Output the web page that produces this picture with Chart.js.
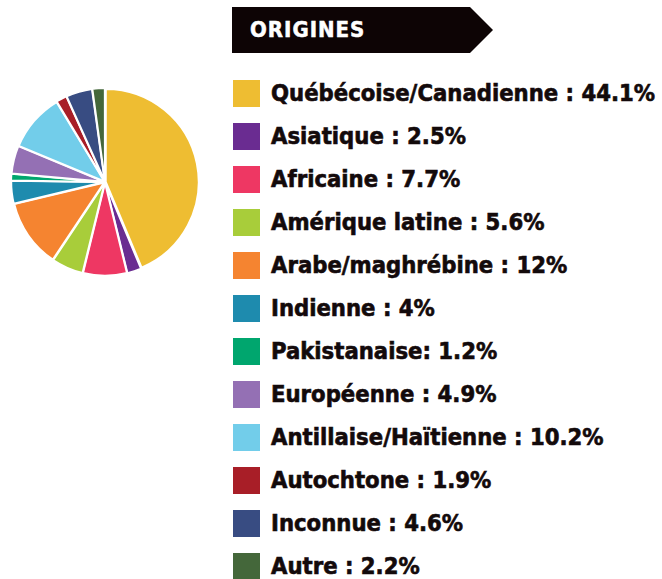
<!DOCTYPE html>
<html>
<head>
<meta charset="utf-8">
<script src="https://cdn.jsdelivr.net/npm/chart.js@4/dist/chart.umd.min.js"></script>
<style>
  html, body { margin: 0; padding: 0; background: #fff; }
  #wrap { position: relative; width: 662px; height: 579px; overflow: hidden; }
  #pie { position: absolute; left: 10px; top: 87px; }
  #banner {
    position: absolute; left: 232px; top: 7px; width: 261px; height: 46px;
    background: #0d0405;
    clip-path: polygon(0 0, 238px 0, 261px 23px, 238px 46px, 0 46px);
  }
  #banner span {
    position: absolute; left: 18px; top: 10px;
    color: #fff; font-family: 'DejaVu Sans Condensed', 'DejaVu Sans', sans-serif;
    font-weight: bold; font-size: 22px; line-height: 26px; letter-spacing: 1px;
    -webkit-text-stroke: 0.5px #fff;
  }
  .sw { position: absolute; left: 233px; width: 27px; height: 27px; }
  .lb {
    position: absolute; left: 271px; height: 18px; line-height: 18px; white-space: nowrap;
    color: #130a0b; font-family: 'DejaVu Sans Condensed', 'DejaVu Sans', sans-serif; font-weight: bold;
    -webkit-text-stroke: 0.6px #130a0b;
  }
</style>
</head>
<body>
<div id="wrap">
  <canvas id="pie" width="190" height="190"></canvas>
  <div id="banner"><span>ORIGINES</span></div>
  <div id="legend"></div>
</div>
<script>
// origines des participants (%)
const names = ['Québécoise/Canadienne', 'Asiatique', 'Africaine', 'Amérique latine', 'Arabe/maghrébine',
  'Indienne', 'Pakistanaise', 'Européenne', 'Antillaise/Haïtienne', 'Autochtone', 'Inconnue', 'Autre'];
const valeurs = [44.1, 2.5, 7.7, 5.6, 12, 4, 1.2, 4.9, 10.2, 1.9, 4.6, 2.2];
const etiquettes = ['Québécoise/Canadienne : 44.1%', 'Asiatique : 2.5%', 'Africaine : 7.7%', 'Amérique latine : 5.6%',
  'Arabe/maghrébine : 12%', 'Indienne : 4%', 'Pakistanaise: 1.2%', 'Européenne : 4.9%',
  'Antillaise/Haïtienne : 10.2%', 'Autochtone : 1.9%', 'Inconnue : 4.6%', 'Autre : 2.2%'];
const couleurs = ['#eebd32', '#6a2c91', '#ee3763', '#a8cd3a', '#f58430', '#1e8bae',
  '#00a66e', '#9470b4', '#72cdea', '#a81e27', '#384c82', '#44673a'];

// legende
const legend = document.getElementById('legend');
const mesure = document.createElement('canvas').getContext('2d');
mesure.font = "bold 26px 'DejaVu Sans Condensed'";
const taille = 26 * 385 / mesure.measureText(etiquettes[0]).width;
etiquettes.forEach((txt, i) => {
  const top = 80 + 43 * i;
  const sw = document.createElement('div');
  sw.className = 'sw';
  sw.style.top = top + 'px';
  sw.style.background = couleurs[i];
  legend.appendChild(sw);
  const lb = document.createElement('div');
  lb.className = 'lb';
  lb.style.top = (top + 4) + 'px';
  lb.style.fontSize = taille.toFixed(1) + 'px';
  lb.textContent = txt;
  legend.appendChild(lb);
});

const ctx = document.getElementById('pie').getContext('2d');
const chartOrigines = new Chart(ctx, {
  type: 'pie',
  data: {
    labels: names,
    datasets: [{
      data: valeurs,
      backgroundColor: couleurs,
      borderColor: '#ffffff',
      borderWidth: 2,
      offset: 3,
    }]
  },
  options: {
    responsive: false,
    animation: false,
    layout: { padding: 0 },
    plugins: {
      legend: { display: false },
      tooltip: { enabled: false },
    },
  }
});
</script>
</body>
</html>
